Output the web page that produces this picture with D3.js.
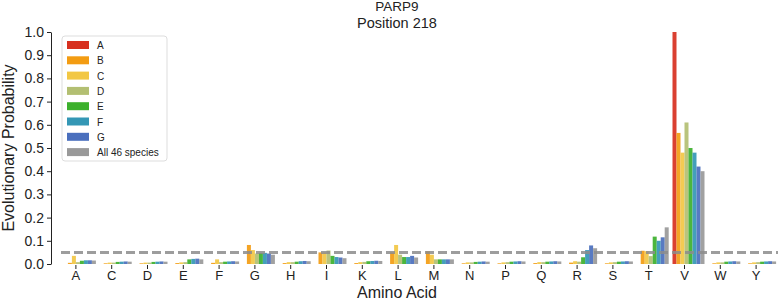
<!DOCTYPE html>
<html>
<head>
<meta charset="utf-8">
<script src="https://cdn.jsdelivr.net/npm/d3@7"></script>
<style>
  body { margin: 0; background: #fff; }
  text { font-family: "Liberation Sans", Arial, sans-serif; }
</style>
</head>
<body>
<div id="chart"></div>
<script>
// amino acids on the x axis
const aminoAcids = ["A","C","D","E","F","G","H","I","K","L","M","N","P","Q","R","S","T","V","W","Y"];
const seriesNames = ["A","B","C","D","E","F","G","All 46 species"];
const seriesColors = ["#d7301f","#f39c12","#f2c744","#b3bf72","#3cb02c","#3497b5","#4a6fbd","#999999"];

// probabilities per series, same order as aminoAcids
const valsA   = [0,0,0,0,0,0,0,0,0,0,0,0,0,0,0,0,0,1.0,0,0];
const valsB   = [0.005,0.003,0.003,0.004,0.005,0.082,0.004,0.05,0.004,0.05,0.055,0.003,0.003,0.004,0.006,0.003,0.057,0.565,0.003,0.003];
const valsC   = [0.035,0.006,0.006,0.007,0.02,0.06,0.008,0.05,0.008,0.082,0.04,0.007,0.007,0.008,0.012,0.007,0.055,0.48,0.007,0.007];
const valsD   = [0.008,0.006,0.006,0.008,0.008,0.045,0.008,0.058,0.009,0.04,0.02,0.007,0.008,0.008,0.01,0.008,0.034,0.61,0.007,0.008];
const valsE   = [0.014,0.009,0.009,0.02,0.01,0.048,0.01,0.035,0.012,0.03,0.02,0.009,0.01,0.01,0.029,0.01,0.118,0.50,0.01,0.01];
const valsF   = [0.016,0.01,0.01,0.022,0.011,0.048,0.012,0.03,0.013,0.03,0.02,0.01,0.011,0.011,0.06,0.011,0.10,0.48,0.011,0.011];
const valsG   = [0.016,0.011,0.011,0.023,0.012,0.045,0.013,0.028,0.014,0.035,0.02,0.011,0.012,0.012,0.08,0.012,0.115,0.42,0.012,0.012];
const valsAll = [0.015,0.01,0.01,0.02,0.011,0.04,0.012,0.025,0.013,0.028,0.02,0.01,0.011,0.011,0.068,0.011,0.158,0.40,0.011,0.011];
const seriesValues = [valsA, valsB, valsC, valsD, valsE, valsF, valsG, valsAll];

const uniformLine = 0.05;
const yTicks = d3.range(0, 11).map(d => d / 10);

const W = 778, H = 301;
const margin = { top: 32, right: 4, bottom: 37, left: 51 };

const svg = d3.select("#chart").append("svg")
  .attr("width", W).attr("height", H);

const x = d3.scaleBand()
  .domain(aminoAcids)
  .range([58, 774])
  .padding(0);

const groupWidth = 32;
const xSub = d3.scaleBand()
  .domain(seriesNames)
  .range([0, groupWidth]);

const y = d3.scaleLinear()
  .domain([0, 1])
  .range([H - margin.bottom, margin.top]);

// bars
const groups = svg.append("g").selectAll("g")
  .data(aminoAcids)
  .join("g")
  .attr("transform", d => "translate(" + (x(d) + x.bandwidth() / 2 - 12) + ",0)");

groups.selectAll("rect")
  .data((aa, i) => seriesNames.map((s, k) => ({ s: s, k: k, v: seriesValues[k][i] })))
  .join("rect")
  .attr("x", d => xSub(d.s))
  .attr("width", xSub.bandwidth())
  .attr("y", d => y(d.v))
  .attr("height", d => y(0) - y(d.v))
  .attr("fill", d => seriesColors[d.k])
  .attr("fill-opacity", 0.92);

// dashed uniform line
svg.append("line")
  .attr("x1", 61).attr("x2", W)
  .attr("y1", y(uniformLine)).attr("y2", y(uniformLine))
  .attr("stroke", "#8c8c8c")
  .attr("stroke-opacity", 0.85)
  .attr("stroke-width", 3)
  .attr("stroke-dasharray", "9,4");

// y axis
const yAxis = svg.append("g")
  .attr("transform", "translate(" + margin.left + ",0)")
  .call(d3.axisLeft(y).tickValues(yTicks).tickFormat(d3.format(".1f")).tickSize(4).tickSizeOuter(0));
yAxis.selectAll("text").style("font-size", "14px").attr("fill", "#222");
yAxis.select(".domain").attr("stroke", "#222");
yAxis.selectAll("line").attr("stroke", "#222");

// x axis (ticks only)
const xAxis = svg.append("g")
  .attr("transform", "translate(0," + (y(0) + 1) + ")")
  .call(d3.axisBottom(x).tickSize(4).tickPadding(2).tickSizeOuter(0));
xAxis.select(".domain").remove();
xAxis.selectAll("text").style("font-size", "13px").attr("fill", "#222");
xAxis.selectAll("line").attr("stroke", "#222");

// titles
svg.append("text").attr("x", 397).attr("y", 11).attr("text-anchor", "middle")
  .style("font-size", "13.5px").attr("fill", "#222").text("PARP9");
svg.append("text").attr("x", 397).attr("y", 27.5).attr("text-anchor", "middle")
  .style("font-size", "14.5px").attr("fill", "#222").text("Position 218");

svg.append("text").attr("x", 397).attr("y", 298).attr("text-anchor", "middle")
  .style("font-size", "16px").attr("fill", "#222").text("Amino Acid");

svg.append("text")
  .attr("transform", "translate(14," + ((y(0) + y(1)) / 2) + ") rotate(-90)")
  .attr("text-anchor", "middle")
  .style("font-size", "16px").attr("fill", "#222").text("Evolutionary Probability");

// legend
const legend = svg.append("g").attr("transform", "translate(62,36)");
legend.append("rect")
  .attr("width", 105).attr("height", 125)
  .attr("rx", 3)
  .attr("fill", "#fff").attr("fill-opacity", 0.8)
  .attr("stroke", "#ddd");
const items = legend.selectAll("g.item")
  .data(seriesNames)
  .join("g")
  .attr("class", "item")
  .attr("transform", (d, i) => "translate(5," + (9 + i * 15.3) + ")");
items.append("rect")
  .attr("width", 22).attr("height", 8)
  .attr("y", -4)
  .attr("fill", (d, i) => seriesColors[i]);
items.append("text")
  .attr("x", 30).attr("y", 4)
  .style("font-size", "10px").attr("fill", "#222")
  .text(d => d);
</script>
</body>
</html>
